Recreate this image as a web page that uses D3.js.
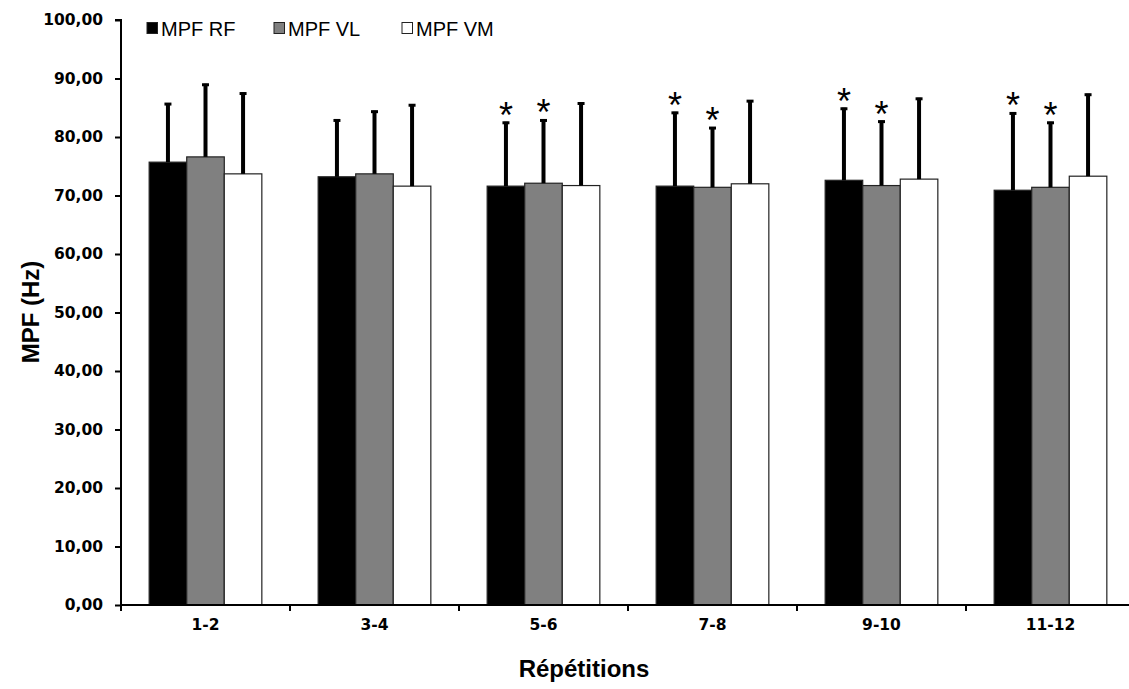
<!DOCTYPE html>
<html><head><meta charset="utf-8">
<script src="https://cdn.jsdelivr.net/npm/d3@7"></script>
<style>body{margin:0;background:#fff}svg{display:block}</style>
</head><body>
<svg id="c" width="1129" height="689"></svg>
<script>
const categories = ["1-2","3-4","5-6","7-8","9-10","11-12"];
const seriesNames = ["MPF RF","MPF VL","MPF VM"];
const meanRF = [75.7, 73.2, 71.6, 71.6, 72.6, 70.9];
const meanVL = [76.6, 73.7, 72.1, 71.4, 71.7, 71.4];
const meanVM = [73.7, 71.6, 71.7, 72.0, 72.8, 73.3];
const sdRF = [10.1, 9.8, 11.0, 12.7, 12.4, 13.3];
const sdVL = [12.5, 10.8, 10.9, 10.3, 11.1, 11.2];
const sdVM = [13.9, 14.0, 14.2, 14.3, 13.9, 14.1];
const sigRF = [false,false,true,true,true,true];
const sigVL = [false,false,true,true,true,true];
const sigVM = [false,false,false,false,false,false];
const yTicks = [0,10,20,30,40,50,60,70,80,90,100];
const fills = ["#000000","#808080","#ffffff"];

const means = [meanRF, meanVL, meanVM];
const sds = [sdRF, sdVL, sdVM];
const sigs = [sigRF, sigVL, sigVM];

const svg = d3.select("#c");
const x0 = 121, step = 169;
const x = d3.scaleBand().domain(categories).range([x0, x0 + step*categories.length])
  .paddingInner(0.3333).paddingOuter(0.16667);
const xs = d3.scaleBand().domain(seriesNames).range([0, x.bandwidth()]);
const y = d3.scaleLinear().domain([0,100]).range([605,20]);

// bars
seriesNames.forEach((s, si) => {
  const g = svg.append("g");
  g.selectAll("rect").data(categories).join("rect")
    .attr("x", d => x(d) + xs(s))
    .attr("y", (d,i) => y(means[si][i]))
    .attr("width", xs.bandwidth())
    .attr("height", (d,i) => y(0) - y(means[si][i]))
    .attr("fill", fills[si])
    .attr("stroke", "#222").attr("stroke-width", 1.2);
  // error bars
  g.selectAll("line.e").data(categories).join("line").attr("class","e")
    .attr("x1", d => x(d) + xs(s) + xs.bandwidth()/2)
    .attr("x2", d => x(d) + xs(s) + xs.bandwidth()/2)
    .attr("y1", (d,i) => y(means[si][i]))
    .attr("y2", (d,i) => y(means[si][i] + sds[si][i]))
    .attr("stroke", "#000").attr("stroke-width", 4);
  g.selectAll("line.c").data(categories).join("line").attr("class","c")
    .attr("x1", d => x(d) + xs(s) + xs.bandwidth()/2 - 3.5)
    .attr("x2", d => x(d) + xs(s) + xs.bandwidth()/2 + 3.5)
    .attr("y1", (d,i) => y(means[si][i] + sds[si][i]) + 1)
    .attr("y2", (d,i) => y(means[si][i] + sds[si][i]) + 1)
    .attr("stroke", "#000").attr("stroke-width", 3);
  // stars
  g.selectAll("text.s").data(categories.filter((d,i) => sigs[si][i])).join("text").attr("class","s")
    .attr("x", d => x(d) + xs(s) + xs.bandwidth()/2)
    .attr("y", d => { const i = categories.indexOf(d); return y(means[si][i] + sds[si][i]) + 6; })
    .attr("text-anchor","middle")
    .attr("font-family","Liberation Sans, Arial, sans-serif")
    .attr("font-size", 36).attr("fill","#000").text("*");
});

// y axis
const yAxis = svg.append("g").attr("transform", `translate(${x0},0)`)
  .call(d3.axisLeft(y).tickValues(yTicks).tickSize(6).tickPadding(12)
    .tickFormat(d => d3.format(".2f")(d).replace(".", ",")));
yAxis.select(".domain").attr("stroke-width", 2).attr("d", `M-6,${y(100)}H0V${y(0)}`);
yAxis.selectAll(".tick line").attr("stroke-width", 2);
yAxis.selectAll("text").attr("font-family","DejaVu Sans, Verdana, sans-serif")
  .attr("font-weight","bold").attr("font-size", 15.5).attr("fill","#000");

// x axis
const xAxis = svg.append("g").attr("transform", `translate(0,${y(0)})`)
  .call(d3.axisBottom(x).tickSize(0).tickPadding(14));
xAxis.select(".domain").attr("stroke-width", 2).attr("d", `M${x0},0H1129`);
xAxis.selectAll("text").attr("font-family","DejaVu Sans, Verdana, sans-serif")
  .attr("font-weight","bold").attr("font-size", 15.5).attr("fill","#000");
const bounds = d3.range(categories.length + 1).map(i => x0 + i*step);
xAxis.selectAll("line.b").data(bounds).join("line").attr("class","b")
  .attr("x1", d => d).attr("x2", d => d).attr("y1", 0).attr("y2", 6)
  .attr("stroke","#000").attr("stroke-width", 2);

// titles
svg.append("text").attr("x", 584).attr("y", 677).attr("text-anchor","middle")
  .attr("font-family","Liberation Sans, Arial, sans-serif").attr("font-weight","bold")
  .attr("font-size", 24).text("Répétitions");
svg.append("text").attr("transform", "translate(39,312) rotate(-90)").attr("text-anchor","middle")
  .attr("font-family","Liberation Sans, Arial, sans-serif").attr("font-weight","bold")
  .attr("font-size", 24).text("MPF (Hz)");

// legend
const legX = [147, 274, 402];
const leg = svg.append("g");
seriesNames.forEach((s, i) => {
  leg.append("rect").attr("x", legX[i]).attr("y", 22.5).attr("width", 10.5).attr("height", 11)
    .attr("fill", fills[i]).attr("stroke", "#222").attr("stroke-width", 1);
  leg.append("text").attr("x", legX[i] + 14).attr("y", 36)
    .attr("font-family","Liberation Sans, Arial, sans-serif").attr("font-size", 20)
    .attr("fill","#000").text(s);
});
</script>
</body></html>
